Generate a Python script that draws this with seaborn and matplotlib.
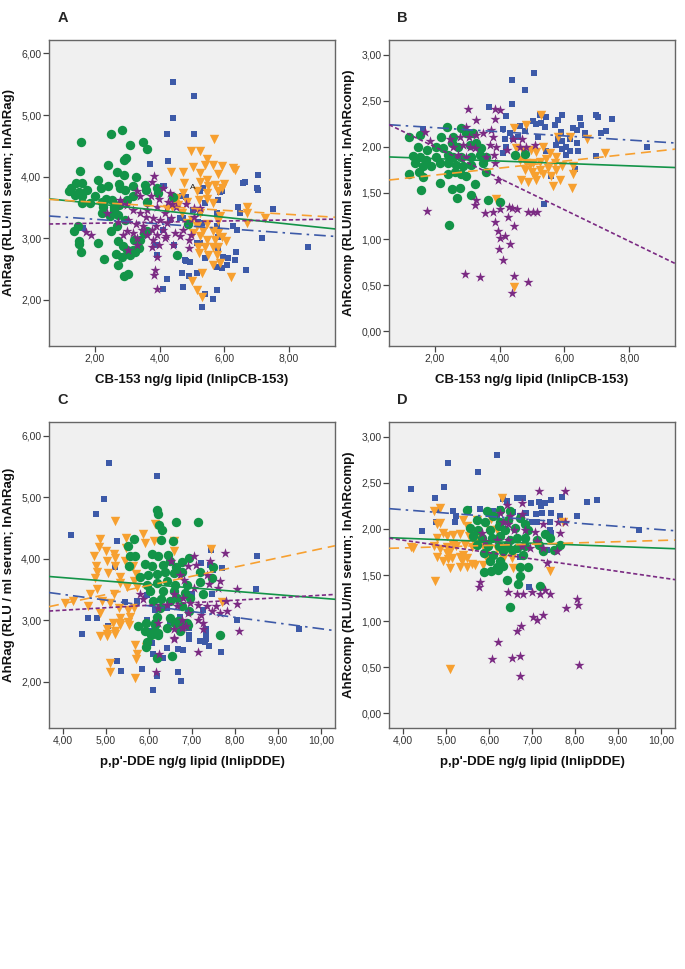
import numpy as np
import pandas as pd
import seaborn as sns
import matplotlib.pyplot as plt
from matplotlib.ticker import FuncFormatter

# groups, drawing order and look
groups = ["blue", "orange", "green", "purple"]
colors = {"blue": "#3d5aa8", "orange": "#f7a030", "green": "#139448", "purple": "#7b2b83"}
markers = {"blue": "s", "orange": "v", "green": "o", "purple": "*"}
msize = {"blue": 24, "orange": 46, "green": 46, "purple": 58}
lstyle = {"green": "-", "orange": (0, (6, 3.5)), "purple": (0, (2.5, 1.5)), "blue": (0, (7, 3, 1.5, 3))}

# ---- panel A: CB-153 vs AhRag ----
a_blue = [(4.42,5.53),(5.07,5.31),(4.42,4.96),(4.22,4.70),(5.06,4.70),(3.70,4.21),(4.27,4.25),(7.05,4.02),
          (6.59,3.90),(6.64,3.92),(7.00,3.82),(7.05,3.79),(7.49,3.48),(6.43,3.50),(6.48,3.41),(5.92,3.76),
          (5.81,3.62),(5.40,3.57),(4.11,3.84),(4.42,3.68),(4.68,3.68),(5.25,3.76),(5.02,3.45),(4.32,3.30),
          (4.63,3.32),(5.25,3.41),(5.30,3.24),(5.76,3.41),(5.76,3.20),(6.28,3.19),(6.40,3.14),(5.81,3.02),
          (4.11,3.14),(1.64,3.17),(7.18,3.00),(8.60,2.85),(3.89,2.89),(4.44,2.89),(5.14,2.92),(5.25,2.92),
          (5.81,2.84),(5.95,2.69),(6.12,2.68),(6.33,2.65),(6.09,2.57),(5.92,2.51),(5.76,2.54),(5.40,2.68),
          (4.78,2.65),(4.94,2.62),(6.36,2.78),(6.67,2.49),(4.68,2.43),(4.90,2.38),(5.14,2.44),(4.22,2.34),
          (4.11,2.17),(4.71,2.21),(5.78,2.16),(5.40,2.10),(5.66,2.02),(5.32,1.89),(3.91,2.73),(4.73,3.32),
          (5.20,3.26),(4.81,3.67),(5.33,3.81),(4.15,3.85),(5.87,3.75),(6.39,3.13),(4.81,2.63)]
a_orange = [(5.68,4.61),(4.96,4.41),(5.25,4.41),(5.45,4.28),(4.35,4.08),(4.73,4.08),(5.02,4.16),(5.40,4.19),
            (5.66,4.19),(5.92,4.18),(6.28,4.14),(6.33,4.10),(5.25,4.06),(5.81,4.05),(5.45,3.95),(4.75,3.89),
            (5.25,3.92),(5.51,3.84),(5.71,3.86),(5.99,3.88),(4.71,3.74),(5.14,3.76),(5.45,3.73),(5.81,3.76),
            (5.92,3.81),(4.55,3.65),(4.84,3.59),(5.23,3.62),(5.45,3.63),(5.66,3.57),(4.58,3.54),(4.37,3.51),
            (4.22,3.47),(4.68,3.41),(5.25,3.41),(6.69,3.50),(6.69,3.41),(5.87,3.36),(4.99,3.30),(4.84,3.24),
            (5.14,3.19),(5.45,3.23),(5.81,3.28),(5.04,3.08),(5.35,3.11),(5.66,3.11),(5.81,3.08),(5.25,3.03),
            (5.45,2.97),(5.71,2.97),(5.20,2.86),(5.40,2.86),(5.66,2.86),(5.81,2.85),(5.92,3.02),(5.22,2.76),
            (5.51,2.73),(5.76,2.73),(5.66,2.57),(5.87,2.59),(5.30,2.43),(6.21,2.37),(5.01,2.31),(5.14,2.16),
            (5.30,2.05),(7.26,3.32),(6.70,3.24),(4.46,3.56),(6.05,2.95)]
a_green = [(1.57,4.57),(2.49,4.70),(2.84,4.76),(1.54,4.09),(3.08,4.51),(2.96,4.30),(2.90,4.27),(2.41,4.19),
           (3.49,4.57),(3.62,4.45),(2.08,3.95),(2.69,4.07),(2.91,4.03),(3.27,3.99),(1.43,3.90),(1.25,3.82),
           (1.60,3.90),(1.77,3.78),(1.20,3.76),(1.51,3.75),(2.18,3.81),(2.74,3.88),(2.77,3.81),(2.93,3.78),
           (3.19,3.84),(3.55,3.86),(3.58,3.78),(3.96,3.74),(1.60,3.68),(1.60,3.57),(1.86,3.57),(2.21,3.59),
           (2.34,3.64),(2.26,3.51),(2.52,3.62),(2.59,3.51),(2.74,3.54),(2.98,3.62),(3.19,3.68),(3.60,3.59),
           (2.21,3.41),(2.46,3.36),(2.72,3.38),(2.93,3.30),(2.67,3.20),(2.49,3.11),(1.35,3.12),(1.51,2.95),
           (1.51,2.90),(2.10,2.92),(2.72,2.95),(2.87,2.88),(3.22,2.97),(3.39,2.97),(3.52,3.08),(3.35,2.84),
           (3.19,2.81),(3.00,2.81),(3.25,2.78),(1.57,2.77),(2.28,2.67),(2.64,2.75),(2.85,2.70),(3.08,2.73),
           (2.72,2.56),(2.90,2.39),(3.03,2.42),(3.60,3.11),(4.53,2.73),(1.48,3.20),(1.38,3.70),(1.99,3.69),
           (3.91,3.82),(2.40,3.85),(2.60,3.45),(4.40,3.67),(4.87,3.23)]
a_purple = [(3.82,4.01),(3.75,3.92),(3.31,3.76),(3.39,3.68),(3.72,3.68),(3.99,3.63),(4.09,3.82),(4.32,3.73),
            (4.27,3.59),(4.39,3.56),(4.51,3.51),(5.06,3.49),(5.07,3.35),(5.25,3.49),(4.80,3.56),(2.77,3.62),
            (2.98,3.54),(3.19,3.46),(3.39,3.41),(3.57,3.35),(3.80,3.32),(4.01,3.30),(4.16,3.41),(4.34,3.32),
            (2.36,3.41),(2.72,3.27),(3.03,3.30),(3.27,3.23),(3.49,3.19),(3.75,3.14),(3.89,3.19),(4.11,3.14),
            (3.91,3.05),(4.20,3.03),(3.80,2.97),(3.99,2.89),(3.75,2.86),(3.60,3.05),(3.29,3.00),(3.19,3.08),
            (3.00,3.11),(3.03,2.80),(3.29,2.89),(4.42,2.89),(4.63,3.03),(4.71,3.14),(4.91,2.97),(4.92,2.84),
            (4.96,3.05),(1.71,3.10),(1.87,3.05),(3.86,2.49),(3.83,2.41),(3.93,2.17),(4.22,3.24),(4.47,3.08),
            (3.91,3.51),(3.60,3.46),(2.83,3.56),(3.44,3.14),(3.91,2.70),(2.88,3.05),(4.17,3.00)]

# ---- panel B: CB-153 vs AhRcomp ----
b_blue = [(5.05,2.80),(4.38,2.72),(4.77,2.62),(4.38,2.46),(3.66,2.43),(4.18,2.34),(6.97,2.35),(7.04,2.32),
          (7.48,2.30),(6.47,2.31),(6.50,2.24),(5.91,2.35),(5.80,2.29),(5.70,2.24),(5.44,2.32),(5.24,2.35),
          (5.03,2.28),(5.13,2.25),(5.29,2.26),(5.39,2.22),(1.63,2.19),(4.10,2.19),(4.62,2.23),(4.77,2.17),
          (4.31,2.15),(4.41,2.08),(4.15,2.08),(4.57,2.11),(4.20,2.00),(4.10,1.93),(6.28,2.20),(6.38,2.18),
          (6.64,2.15),(7.14,2.15),(7.30,2.17),(5.89,2.16),(5.80,2.08),(5.91,2.06),(6.16,2.08),(6.38,2.04),
          (6.06,2.00),(5.75,2.02),(5.91,1.98),(6.16,1.95),(6.04,1.91),(6.42,1.95),(6.97,1.90),(8.56,2.00),
          (6.32,1.76),(5.42,1.95),(5.19,2.11),(5.36,1.38),(5.60,1.68)]
b_orange = [(5.27,2.35),(4.82,2.24),(4.44,2.20),(5.80,2.11),(6.16,2.11),(6.69,2.08),(4.51,1.99),(4.72,1.95),
            (4.96,1.97),(5.13,1.94),(5.34,2.00),(5.55,1.93),(5.75,1.89),(7.25,1.93),(4.62,1.86),(4.82,1.82),
            (5.03,1.82),(5.24,1.84),(5.44,1.87),(5.70,1.83),(5.94,1.79),(4.77,1.75),(5.00,1.73),(5.24,1.75),
            (5.49,1.77),(5.75,1.75),(6.28,1.79),(4.67,1.64),(4.88,1.62),(5.13,1.64),(5.34,1.70),(5.60,1.68),
            (5.85,1.64),(5.65,1.57),(6.22,1.55),(6.28,1.70),(3.90,1.43),(4.43,0.48),(5.08,1.68),(4.95,1.80)]
b_green = [(2.37,2.21),(2.79,2.20),(1.53,2.13),(1.20,2.11),(2.18,2.11),(2.56,2.11),(2.97,2.15),(3.18,2.15),
           (1.48,2.00),(1.76,1.97),(2.04,2.00),(2.25,1.99),(2.51,2.04),(2.71,2.00),(3.07,2.02),(3.28,2.04),
           (3.43,1.99),(1.32,1.90),(1.53,1.89),(1.73,1.86),(2.04,1.89),(2.39,1.91),(2.56,1.89),(2.81,1.89),
           (3.12,1.89),(3.38,1.91),(3.59,1.89),(1.37,1.82),(1.63,1.79),(1.89,1.79),(2.14,1.82),(2.40,1.82),
           (2.66,1.80),(2.87,1.79),(3.12,1.80),(3.48,1.82),(1.21,1.71),(1.49,1.73),(1.63,1.67),(2.39,1.71),
           (2.61,1.73),(2.81,1.70),(2.97,1.68),(3.57,1.73),(1.58,1.53),(2.14,1.61),(2.54,1.54),(2.77,1.55),
           (2.69,1.45),(3.23,1.60),(3.10,1.48),(3.63,1.42),(4.02,1.40),(2.43,1.15),(4.46,1.91),(4.77,1.92)]
b_purple = [(3.02,2.41),(3.85,2.41),(4.02,2.40),(3.28,2.29),(2.95,2.22),(3.85,2.30),(1.70,2.16),(1.84,2.06),
            (2.45,2.08),(2.76,2.11),(3.05,2.11),(3.28,2.13),(3.48,2.15),(3.74,2.18),(3.79,2.11),(2.56,2.00),
            (2.87,2.02),(3.07,2.00),(3.23,1.99),(3.69,2.02),(3.90,2.00),(3.81,1.91),(2.71,1.91),(2.97,1.89),
            (3.59,1.89),(3.85,1.82),(4.21,1.97),(4.41,2.08),(4.70,2.08),(4.62,2.00),(4.82,2.00),(5.08,2.02),
            (3.95,1.64),(3.28,1.42),(3.23,1.37),(3.56,1.28),(3.79,1.29),(4.02,1.33),(4.28,1.35),(4.39,1.34),
            (4.53,1.33),(4.88,1.29),(5.04,1.29),(5.16,1.29),(1.75,1.30),(3.85,1.18),(4.26,1.24),(4.43,1.14),
            (3.95,1.09),(4.00,1.01),(4.15,1.03),(4.33,0.95),(3.98,0.89),(4.11,0.77),(2.94,0.62),(3.38,0.59),
            (4.43,0.60),(4.86,0.53),(4.38,0.41)]

# ---- panel C: DDE vs AhRag ----
c_blue = [(5.07,5.55),(4.96,4.97),(4.77,4.73),(6.18,5.34),(4.19,4.38),(5.26,4.28),(5.21,3.86),(7.44,4.14),
          (8.52,4.04),(7.71,3.85),(7.42,3.90),(7.22,3.93),(7.50,3.82),(8.50,3.50),(5.44,3.29),(4.78,3.04),
          (4.57,3.04),(4.45,2.77),(9.49,2.86),(8.04,3.01),(5.71,3.31),(5.95,3.41),(6.99,3.42),(7.26,3.42),
          (7.46,3.42),(7.26,3.17),(6.72,3.06),(6.49,2.96),(6.94,2.88),(7.32,2.85),(6.41,3.20),(6.14,3.17),
          (5.95,3.01),(6.02,2.83),(5.05,2.91),(5.25,2.34),(5.34,2.18),(5.83,2.21),(6.10,1.87),(6.19,2.09),
          (6.08,2.63),(6.10,2.45),(6.33,2.38),(6.41,2.55),(6.68,2.16),(6.74,2.02),(6.67,2.53),(6.80,2.52),
          (6.94,2.69),(6.94,2.76),(7.19,2.67),(7.33,2.70),(7.30,2.64),(7.40,2.59),(7.33,2.80),(7.67,2.49)]
c_orange = [(5.21,4.62),(4.86,4.32),(5.47,4.34),(4.84,4.19),(5.00,4.12),(5.19,4.08),(5.47,4.17),(5.87,4.40),
            (5.91,4.25),(6.14,4.56),(6.12,4.28),(6.57,4.29),(6.57,4.13),(7.44,4.16),(4.72,4.04),(4.76,3.88),
            (5.21,4.01),(5.02,3.96),(5.43,3.97),(5.21,3.88),(4.78,3.79),(5.05,3.77),(5.33,3.71),(5.62,3.88),
            (5.70,3.75),(4.74,3.69),(5.32,3.61),(5.48,3.54),(5.64,3.63),(4.78,3.51),(5.19,3.42),(5.71,3.54),
            (4.05,3.28),(4.24,3.31),(4.63,3.42),(4.90,3.31),(5.09,3.28),(4.59,3.23),(4.86,3.12),(5.29,3.20),
            (5.52,3.17),(5.64,3.20),(5.33,3.04),(5.56,3.06),(5.17,2.96),(5.33,2.93),(5.54,2.93),(5.02,2.85),
            (4.86,2.74),(5.03,2.74),(5.21,2.83),(7.71,3.30),(5.02,2.78),(5.21,2.78),(5.67,2.60),(5.71,2.45),
            (5.70,2.37),(5.08,2.31),(5.09,2.16),(5.67,2.07),(5.92,2.56),(5.33,2.95),(5.52,2.97)]
c_green = [(6.19,4.79),(6.22,4.72),(6.24,4.55),(6.31,4.47),(6.62,4.59),(7.15,4.59),(6.28,4.31),(6.55,4.29),
           (5.64,4.32),(5.50,4.21),(5.56,4.04),(5.67,4.04),(6.06,4.08),(6.22,4.04),(6.45,4.06),(6.94,4.01),
           (5.53,3.88),(5.91,3.91),(6.06,3.88),(6.33,3.90),(6.49,3.96),(6.76,3.95),(6.62,3.86),(7.19,3.79),
           (7.48,3.86),(5.79,3.70),(5.98,3.74),(6.18,3.75),(6.37,3.79),(6.57,3.77),(6.76,3.79),(7.19,3.62),
           (7.46,3.69),(5.95,3.58),(6.18,3.61),(6.41,3.63),(6.60,3.58),(6.88,3.58),(6.02,3.47),(6.33,3.48),
           (6.57,3.48),(6.84,3.44),(6.10,3.32),(6.29,3.34),(6.49,3.32),(6.64,3.36),(6.95,3.36),(7.26,3.42),
           (6.26,3.20),(6.76,3.23),(6.92,3.15),(6.18,3.06),(6.49,3.04),(6.68,2.98),(5.75,2.90),(5.93,2.96),
           (6.14,2.96),(6.60,2.96),(6.76,2.96),(6.88,2.96),(5.91,2.82),(6.06,2.79),(6.22,2.79),(6.41,2.88),
           (7.65,2.76),(5.95,2.65),(5.93,2.56),(6.18,2.38),(6.54,2.42),(6.04,2.76),(6.22,2.76),(6.14,2.92),
           (6.60,2.95),(6.72,2.82),(6.90,2.93)]
c_purple = [(7.05,4.04),(7.76,4.10),(7.09,3.90),(6.91,3.88),(7.42,3.96),(6.50,3.96),(6.72,3.74),(6.82,3.66),
            (7.34,3.74),(7.65,3.64),(7.40,3.59),(8.04,3.51),(7.61,3.52),(7.05,3.52),(6.57,3.42),(6.78,3.36),
            (5.79,3.42),(5.87,3.34),(7.79,3.32),(8.06,3.26),(7.57,3.23),(7.34,3.23),(7.15,3.25),(6.95,3.28),
            (6.64,3.23),(6.43,3.25),(6.22,3.20),(7.22,3.09),(7.46,3.15),(7.65,3.12),(7.81,3.15),(6.91,3.12),
            (6.76,3.01),(7.15,3.01),(7.26,2.96),(6.22,2.96),(6.57,2.85),(6.76,2.88),(6.86,2.90),(6.57,2.71),
            (8.10,2.83),(7.26,2.85),(6.24,2.45),(7.13,2.49),(6.16,2.16),(6.58,2.69),(6.80,2.89)]

# ---- panel D: DDE vs AhRcomp ----
d_blue = [(6.18,2.80),(5.05,2.71),(5.75,2.62),(4.17,2.43),(4.95,2.46),(4.74,2.34),(4.44,1.98),(4.76,2.08),
          (4.78,2.21),(5.17,2.19),(5.24,2.14),(5.20,2.07),(5.52,2.22),(5.79,2.22),(6.08,2.19),(6.25,2.22),
          (6.33,2.32),(6.41,2.30),(6.64,2.34),(6.80,2.34),(6.97,2.28),(7.15,2.29),(7.21,2.25),(7.30,2.28),
          (7.44,2.31),(7.69,2.35),(8.29,2.29),(8.51,2.31),(8.04,2.14),(7.65,2.14),(7.44,2.17),(7.22,2.17),
          (7.08,2.16),(6.99,2.08),(6.87,2.17),(6.72,2.14),(6.56,2.18),(6.18,2.14),(6.25,2.07),(7.42,2.07),
          (7.42,1.99),(7.45,1.96),(9.48,1.99),(6.72,1.70),(6.94,1.37),(7.34,1.77),(7.11,2.07),(6.84,2.17)]
d_orange = [(6.29,2.34),(4.72,2.19),(4.78,2.05),(5.71,2.10),(7.71,2.08),(4.19,1.80),(4.78,1.90),(4.93,1.96),
            (5.01,1.92),(5.17,1.93),(5.32,1.94),(5.52,1.92),(5.63,1.88),(5.79,1.88),(4.71,1.81),(4.85,1.78),
            (5.03,1.80),(5.17,1.83),(5.44,1.83),(5.59,1.80),(5.86,1.81),(4.78,1.70),(5.01,1.74),(5.13,1.68),
            (5.32,1.70),(5.48,1.68),(5.60,1.62),(5.67,1.61),(5.86,1.61),(5.09,1.58),(5.32,1.59),(5.48,1.59),
            (4.74,1.43),(5.90,1.72),(6.18,1.78),(6.56,1.58),(7.42,1.54),(6.04,2.11),(4.86,2.23),(4.86,2.06),
            (5.40,2.10),(5.48,2.03),(5.59,1.94),(5.71,1.90),(6.02,1.99),(6.18,1.99),(4.23,1.79),(5.09,1.76),
            (5.24,1.81),(5.40,1.72),(6.33,1.67),(6.53,1.68),(5.05,1.67),(5.36,1.65),(4.92,1.65),(5.94,1.67),
            (5.09,0.48)]
d_green = [(5.48,2.21),(5.94,2.19),(6.25,2.21),(6.49,2.19),(5.71,2.10),(5.90,2.08),(6.10,2.14),(6.25,2.08),
           (6.45,2.10),(6.72,2.12),(5.55,2.01),(5.75,1.99),(6.02,1.99),(6.22,2.03),(6.37,1.99),(6.60,2.01),
           (6.84,2.05),(6.91,1.99),(5.63,1.92),(5.83,1.90),(6.06,1.90),(6.25,1.92),(6.49,1.88),(6.64,1.90),
           (6.84,1.90),(7.11,1.88),(7.30,1.94),(7.42,1.90),(5.71,1.83),(5.98,1.81),(6.22,1.81),(6.41,1.83),
           (6.64,1.79),(6.84,1.81),(7.15,1.83),(7.64,1.83),(5.87,1.74),(6.10,1.72),(6.33,1.76),(6.53,1.77),
           (6.80,1.72),(7.26,1.76),(7.50,1.77),(6.02,1.65),(6.25,1.65),(6.18,1.59),(5.88,1.53),(6.04,1.54),
           (6.21,1.55),(6.33,1.60),(6.72,1.59),(6.91,1.59),(6.41,1.45),(6.72,1.49),(6.68,1.40),(7.19,1.38),
           (6.49,1.15)]
d_purple = [(7.15,2.41),(7.77,2.41),(6.76,2.28),(6.41,2.26),(6.25,2.17),(6.49,2.14),(6.33,2.08),(6.45,2.05),
            (6.57,1.99),(6.76,2.16),(6.84,1.99),(7.07,1.97),(7.26,2.05),(7.61,2.07),(7.77,2.07),(7.65,1.96),
            (7.11,1.87),(5.83,1.96),(5.90,1.87),(6.18,1.88),(6.45,1.88),(6.76,1.81),(6.95,1.79),(7.26,1.79),
            (7.57,1.76),(7.34,1.63),(5.79,1.42),(5.77,1.37),(6.45,1.32),(6.64,1.29),(6.80,1.29),(6.99,1.32),
            (7.19,1.29),(7.30,1.34),(7.42,1.29),(8.04,1.24),(8.08,1.17),(7.78,1.14),(7.03,1.04),(7.11,1.01),
            (7.26,1.07),(6.74,0.95),(6.21,0.77),(6.64,0.89),(6.07,0.59),(6.54,0.60),(6.72,0.62),(6.72,0.40),
            (8.09,0.52)]

# fit lines per group: (intercept, slope)
a_fit = {"green": (3.672, -0.0554), "orange": (3.649, -0.0328), "blue": (3.382, -0.0375), "purple": (3.225, 0.0090)}
b_fit = {"green": (1.898, -0.0130), "orange": (1.618, 0.0379), "blue": (2.253, -0.0224), "purple": (2.339, -0.1703)}
c_fit = {"green": (3.915, -0.0556), "orange": (2.675, 0.1486), "blue": (3.791, -0.0929), "purple": (3.001, 0.0405)}
d_fit = {"green": (1.971, -0.0180), "orange": (1.740, 0.0135), "blue": (2.352, -0.0360), "purple": (2.148, -0.0676)}

panels = [
    ("A", {"blue": a_blue, "orange": a_orange, "green": a_green, "purple": a_purple}, a_fit,
     (0.58, 9.42), (1.25, 6.22), [2, 4, 6, 8], [2, 3, 4, 5, 6],
     "CB-153 ng/g lipid (lnlipCB-153)", "AhRag (RLU/ml serum; lnAhRag)"),
    ("B", {"blue": b_blue, "orange": b_orange, "green": b_green, "purple": b_purple}, b_fit,
     (0.58, 9.42), (-0.16, 3.16), [2, 4, 6, 8], [0, 0.5, 1, 1.5, 2, 2.5, 3],
     "CB-153 ng/g lipid (lnlipCB-153)", "AhRcomp (RLU/ml serum; lnAhRcomp)"),
    ("C", {"blue": c_blue, "orange": c_orange, "green": c_green, "purple": c_purple}, c_fit,
     (3.67, 10.33), (1.25, 6.22), [4, 5, 6, 7, 8, 9, 10], [2, 3, 4, 5, 6],
     "p,p'-DDE ng/g lipid (lnlipDDE)", "AhRag (RLU / ml serum; lnAhRag)"),
    ("D", {"blue": d_blue, "orange": d_orange, "green": d_green, "purple": d_purple}, d_fit,
     (3.67, 10.33), (-0.16, 3.16), [4, 5, 6, 7, 8, 9, 10], [0, 0.5, 1, 1.5, 2, 2.5, 3],
     "p,p'-DDE ng/g lipid (lnlipDDE)", "AhRcomp (RLU/ml serum; lnAhRcomp)"),
]

sns.set_theme(style="ticks")
plt.rcParams["font.family"] = ["Liberation Sans", "DejaVu Sans"]

fig = plt.figure(figsize=(6.85, 9.69), dpi=100)
positions = [[0.0715, 0.643, 0.4175, 0.3158], [0.568, 0.643, 0.4175, 0.3158],
             [0.0715, 0.2487, 0.4175, 0.3158], [0.568, 0.2487, 0.4175, 0.3158]]
comma = FuncFormatter(lambda v, p: f"{v:.2f}".replace(".", ","))

for (letter, data, fit, xlim, ylim, xt, yt, xlab, ylab), pos in zip(panels, positions):
    ax = fig.add_axes(pos)
    ax.set_facecolor("#f0f0f0")
    for g in groups:
        df = pd.DataFrame(data[g], columns=["x", "y"])
        sns.scatterplot(data=df, x="x", y="y", ax=ax, marker=markers[g], color=colors[g],
                        s=msize[g], linewidth=0, legend=False, zorder=2)
    xs = np.array(xlim)
    for g in ["green", "orange", "blue", "purple"]:
        b0, b1 = fit[g]
        ax.plot(xs, b0 + b1 * xs, color=colors[g], linestyle=lstyle[g], lw=1.2, zorder=3)
    ax.set_xlim(*xlim)
    ax.set_ylim(*ylim)
    ax.set_xticks(xt)
    ax.set_yticks(yt)
    ax.xaxis.set_major_formatter(comma)
    ax.yaxis.set_major_formatter(comma)
    ax.tick_params(length=4, width=0.9, color="#444444", labelsize=7.5, labelcolor="#333333", pad=1.5)
    for sp in ax.spines.values():
        sp.set_color("#666666")
        sp.set_linewidth(1.0)
    ax.set_xlabel(xlab, fontsize=9.5, fontweight="bold", color="#111111")
    ax.set_ylabel(ylab, fontsize=9.5, fontweight="bold", color="#111111")
    ax.xaxis.set_label_coords(0.5, -0.112)
    ax.xaxis.label.set_va("center")
    ax.yaxis.set_label_coords(-0.14, 0.5)
    ax.yaxis.label.set_va("center")
    fig.text(pos[0] + 0.012, pos[1] + pos[3] + 0.023, letter, fontsize=10.5, fontweight="bold",
             ha="left", va="center")
    if letter == "A":
        ax.text(5.02, 3.83, "A", fontsize=6, ha="center", va="center", color="#222222", zorder=4)

fig.savefig("out.png", dpi=100)
